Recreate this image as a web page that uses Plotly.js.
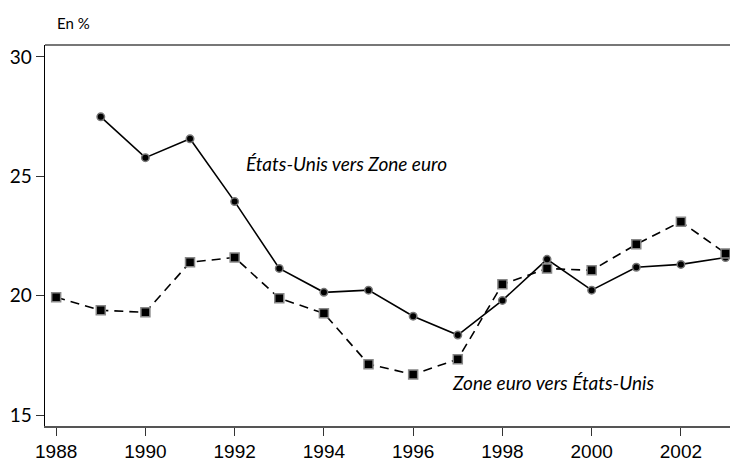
<!DOCTYPE html>
<html>
<head>
<meta charset="utf-8">
<script src="https://cdn.plot.ly/plotly-3.0.1.min.js"></script>
<style>html,body{margin:0;padding:0;background:#fff;}#chart{width:730px;height:465px;}</style>
</head>
<body>
<div id="chart"></div>
<script>
const years = [1988,1989,1990,1991,1992,1993,1994,1995,1996,1997,1998,1999,2000,2001,2002,2003];
const usToEuro = [null,27.49,25.78,26.57,23.94,21.14,20.14,20.23,19.14,18.35,19.8,21.52,20.23,21.19,21.31,21.6];
const euroToUs = [19.93,19.39,19.3,21.4,21.6,19.89,19.26,17.13,16.7,17.34,20.48,21.14,21.06,22.15,23.1,21.77];
const xTicks = [1988,1990,1992,1994,1996,1998,2000,2002];
const yTicks = [15,20,25,30];
const labelUs = "États-Unis vers Zone euro";
const labelEuro = "Zone euro vers États-Unis";
const unitLabel = "En %";

const traces = [
  {x: years, y: usToEuro, type: 'scatter', mode: 'lines+markers', connectgaps: false,
   line: {color: '#000', width: 1.6},
   marker: {symbol: 'circle', size: 7.5, color: '#000', line: {color: '#777', width: 1.5}}},
  {x: years, y: euroToUs, type: 'scatter', mode: 'lines+markers',
   line: {color: '#000', width: 1.6, dash: '9px,6px'},
   marker: {symbol: 'square', size: 9, color: '#000', line: {color: '#888', width: 1.5}}}
];

const layout = {
  width: 730, height: 465,
  margin: {l: 45, r: 0, t: 45, b: 39},
  paper_bgcolor: '#fff', plot_bgcolor: '#fff',
  showlegend: false,
  xaxis: {range: [1987.75, 2003.1], tickvals: xTicks, ticktext: xTicks.map(String),
    showgrid: false, zeroline: false, showline: true, linecolor: '#555', linewidth: 1.5,
    ticks: 'outside', ticklen: 8, tickcolor: '#333', tickwidth: 1,
    tickfont: {family: 'Liberation Sans, Arial, sans-serif', size: 19, color: '#000'}},
  yaxis: {range: [14.54, 30.5], tickvals: yTicks, ticktext: yTicks.map(String),
    showgrid: false, zeroline: false, showline: true, linecolor: '#000', linewidth: 1.5,
    ticks: 'outside', ticklen: 8, tickcolor: '#333', tickwidth: 1,
    tickfont: {family: 'Lato, sans-serif', size: 19, color: '#000'}},
  shapes: [{type: 'line', xref: 'paper', yref: 'paper', x0: 0, x1: 1, y0: 1, y1: 1,
    line: {color: '#777', width: 2}}],
  annotations: [
    {text: labelUs, x: 1992.2, y: 25.55, xref: 'x', yref: 'y', xanchor: 'left', yanchor: 'middle',
     showarrow: false, font: {family: 'Lato, sans-serif', size: 19, color: '#000', style: 'italic'}},
    {text: labelEuro, x: 1996.83, y: 16.36, xref: 'x', yref: 'y', xanchor: 'left', yanchor: 'middle',
     showarrow: false, font: {family: 'Lato, sans-serif', size: 19, color: '#000', style: 'italic'}},
    {text: unitLabel, x: 10/685, y: 1 + 22/381, xref: 'paper', yref: 'paper',
     xanchor: 'left', yanchor: 'middle', showarrow: false,
     font: {family: 'Lato, sans-serif', size: 15, color: '#000'}}
  ]
};

Plotly.newPlot('chart', traces, layout, {displayModeBar: false, staticPlot: true});
</script>
</body>
</html>
